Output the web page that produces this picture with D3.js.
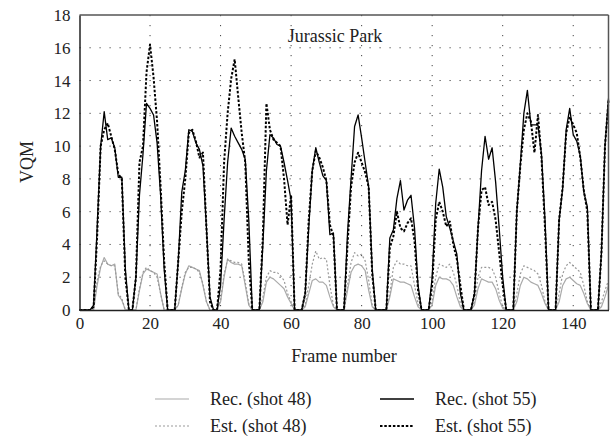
<!DOCTYPE html>
<html>
<head>
<meta charset="utf-8">
<script src="https://cdn.jsdelivr.net/npm/d3@7"></script>
<style>
  body { margin: 0; background: #fff; }
  text { font-family: 'Liberation Serif', 'DejaVu Serif', serif; fill: #222; }
</style>
</head>
<body>
<svg id="chart" width="614" height="446"></svg>
<script>
// frames 0..150
var rec48 = [0,0,0,0,0,
  1.5,2.6,3.2,2.8,2.7,2.8,0.9,0.6,0,0,0,
  0,1.2,2.2,2.5,2.4,2.3,2.2,1.0,0,0,0,0,
  0.3,1.3,2.2,2.7,2.6,2.5,2.4,1.5,0.5,0,0,0,
  0.5,2.0,3.1,2.9,2.8,2.8,2.7,1.5,0.3,0,0,0,
  0.5,1.7,2.0,1.9,1.7,1.5,1.3,0.8,0.4,0,0,0,
  0.2,1.0,1.8,1.9,1.7,1.7,1.5,0.8,0.2,0,0,0,
  1.2,2.3,2.7,2.8,2.7,2.4,1.2,0.2,0,0,0,0,
  0.8,1.9,1.8,1.7,1.7,1.6,1.5,0.8,0.2,0,0,0,
  0.3,1.5,2.0,1.9,1.9,1.8,1.5,0.8,0.2,0,0,0,
  0.3,1.3,1.9,1.8,1.7,1.7,1.3,0.6,0.1,0,0,0,
  0.5,1.5,2.0,1.9,1.7,1.6,1.5,1.0,0.4,0,0,0,
  0.5,1.5,1.9,2.0,1.8,1.6,1.5,1.0,0.4,0,0,0,
  0.2,0.8,1.5]
var est48 = [0,0,0,0,0,
  1.8,2.7,3.0,2.8,2.7,2.7,1.0,0.7,0,0,0,
  0,1.3,2.3,2.6,2.4,2.3,2.0,1.0,0,0,0,0,
  0.3,1.4,2.3,2.6,2.6,2.5,2.3,1.6,0.5,0,0,0,
  0.6,2.2,3.1,3.0,2.9,2.9,2.8,1.7,0.4,0,0,0,
  0.8,2.0,2.4,2.3,2.3,2.1,1.8,1.0,0.5,0,0,0,
  0.3,1.5,2.8,3.6,3.1,3.2,3.1,1.5,0.3,0,0,0,
  1.5,2.9,3.5,3.3,3.4,3.0,1.8,0.3,0,0,0,0,
  1.0,2.6,3.0,2.8,2.8,2.7,2.7,1.5,0.4,0,0,0,
  0.5,2.0,2.8,2.7,2.6,2.8,2.3,1.5,0.4,0,0,0,
  0.5,2.0,2.6,2.6,2.6,2.5,2.0,1.0,0.2,0,0,0,
  1.0,2.2,2.7,2.6,2.5,2.4,2.2,1.5,0.5,0,0,0,
  1.0,2.2,2.7,2.9,2.7,2.5,2.3,1.5,0.5,0,0,0,
  0.5,1.2,1.8]
var rec55 = [0,0,0,0,0.3,
  5.0,10.0,12.1,10.4,10.5,9.9,8.1,8.1,2.5,0,0,
  2.0,7.0,9.5,12.6,12.3,11.9,10.2,7.0,2.5,0,0,0,
  3.0,7.2,8.5,11.0,10.9,10.2,9.8,8.8,5.0,0.8,0,0,
  1.5,5.5,9.0,11.1,10.6,10.2,9.8,9.2,5.5,0,0,0,
  4.0,8.5,10.7,10.5,10.1,10.0,9.0,7.9,6.7,0,0,0,
  1.0,5.0,8.5,9.9,9.0,8.2,7.9,4.6,4.7,0,0,0,
  4.7,8.0,11.2,11.9,10.5,9.0,7.5,2.5,0,0,0,0,
  4.4,4.9,6.8,7.9,6.1,6.7,7.0,5.0,1.5,0,0,0,
  2.0,6.5,8.6,7.5,5.7,5.0,4.2,3.4,1.0,0,0,0,
  1.0,5.0,8.5,10.6,9.2,9.9,7.8,5.0,2.0,0,0,0,
  6.0,8.9,12.0,13.4,11.3,11.3,11.3,9.5,5.5,0,0,0,
  5.5,7.4,11.0,12.3,10.7,10.3,9.4,7.2,6.3,0,0,0,
  3.5,10.0,12.9]
var est55 = [0,0,0,0,0.2,
  4.5,10.0,11.0,11.4,10.6,9.8,8.3,8.0,2.0,0,0,
  2.0,9.0,10.0,14.5,16.2,14.2,11.5,7.5,3.0,0,0,0,
  3.0,6.0,8.0,10.8,11.0,10.3,9.3,9.6,5.0,0.5,0,0,
  2.5,9.0,12.0,14.1,15.3,13.0,10.8,9.0,3.0,0,0,0,
  4.5,12.6,11.0,10.4,10.2,10.0,8.0,5.2,7.0,0,0,0,
  1.0,5.5,8.5,9.7,9.3,8.7,7.9,5.2,4.5,0,0,0,
  4.0,7.5,9.0,9.6,9.0,8.4,7.5,2.2,0,0,0,0,
  3.8,4.5,6.0,5.0,4.8,5.3,5.6,4.2,1.2,0,0,0,
  1.5,5.5,6.6,6.0,5.1,5.4,4.0,3.1,1.5,0,0,0,
  1.0,5.0,7.3,7.5,6.4,6.6,5.5,3.5,1.5,0,0,0,
  6.0,8.8,11.0,12.0,11.5,9.6,11.9,9.3,5.0,0,0,0,
  5.5,7.5,10.8,11.8,11.3,10.8,9.3,7.3,6.0,0,0,0,
  3.5,10.0,12.8]

var xTicks = [0,20,40,60,80,100,120,140]
var yTicks = [0,2,4,6,8,10,12,14,16,18]

var seriesList = [
  {name:'Rec. (shot 48)', values:rec48, color:'#aaa', width:1.2, dash:null},
  {name:'Est. (shot 48)', values:est48, color:'#999', width:1.2, dash:'2,2'},
  {name:'Rec. (shot 55)', values:rec55, color:'#000', width:1.3, dash:null},
  {name:'Est. (shot 55)', values:est55, color:'#000', width:2, dash:'2.5,1.8'}
]

var svg = d3.select('#chart')
var pLeft = 79.5, pRight = 608.5, pTop = 15, pBottom = 310

var x = d3.scaleLinear().domain([0,150]).range([pLeft,pRight])
var y = d3.scaleLinear().domain([0,18]).range([pBottom,pTop])

// dotted grid
svg.append('g').selectAll('line')
  .data(yTicks.filter(function(d){return d > 0 && d < 18}))
  .enter().append('line')
  .attr('x1', pLeft).attr('x2', pRight)
  .attr('y1', function(d){return y(d)}).attr('y2', function(d){return y(d)})
  .attr('stroke','#444').attr('stroke-width',1).attr('stroke-dasharray','1.2,8.8')
svg.append('g').selectAll('line')
  .data(xTicks.filter(function(d){return d > 0}))
  .enter().append('line')
  .attr('y1', pTop).attr('y2', pBottom)
  .attr('x1', function(d){return x(d)}).attr('x2', function(d){return x(d)})
  .attr('stroke','#444').attr('stroke-width',1).attr('stroke-dasharray','1.2,8.8')

// series
var line = d3.line()
  .x(function(d,i){return x(i)})
  .y(function(d){return y(d)})

svg.append('g').selectAll('path')
  .data(seriesList)
  .enter().append('path')
  .attr('d', function(s){return line(s.values)})
  .attr('fill','none')
  .attr('stroke', function(s){return s.color})
  .attr('stroke-width', function(s){return s.width})
  .attr('stroke-dasharray', function(s){return s.dash})
  .attr('stroke-linejoin','round')

// frame
svg.append('line').attr('x1',pLeft).attr('x2',pRight).attr('y1',pTop).attr('y2',pTop)
  .attr('stroke','#555').attr('stroke-width',1.5)
svg.append('line').attr('x1',pRight).attr('x2',pRight).attr('y1',pTop).attr('y2',pBottom)
  .attr('stroke','#555').attr('stroke-width',1.5)

// axes
svg.append('g')
  .attr('transform','translate(0,' + pBottom + ')')
  .call(d3.axisBottom(x).tickValues(xTicks).tickSize(0).tickPadding(7))
svg.append('g')
  .attr('transform','translate(' + pLeft + ',0)')
  .call(d3.axisLeft(y).tickValues(yTicks).tickSize(0).tickPadding(9))
svg.selectAll('.domain').attr('stroke','#222').attr('stroke-width',1.5)
svg.selectAll('.tick text').style('font-family',"'Liberation Serif', serif").style('font-size','17px').attr('fill','#222')

svg.append('text').attr('x', 335).attr('y', 42).attr('text-anchor','middle')
  .style('font-size','18px').text('Jurassic Park')
svg.append('text').attr('x', 344).attr('y', 362).attr('text-anchor','middle')
  .style('font-size','18px').text('Frame number')
svg.append('text').attr('transform','translate(33,162) rotate(-90)').attr('text-anchor','middle')
  .style('font-size','18px').text('VQM')

// legend
var legendPos = [[155,399],[155,426],[380,399],[380,426]]
var legend = svg.append('g').selectAll('g')
  .data(seriesList)
  .enter().append('g')
  .attr('transform', function(d,i){return 'translate(' + legendPos[i][0] + ',' + legendPos[i][1] + ')'})
legend.append('line')
  .attr('x1',0).attr('x2',34).attr('y1',0).attr('y2',0)
  .attr('stroke', function(s){return s.color})
  .attr('stroke-width', function(s){return s.width})
  .attr('stroke-dasharray', function(s){return s.dash})
legend.append('text')
  .attr('x',55).attr('y',6)
  .style('font-size','18px')
  .text(function(s){return s.name})
</script>
</body>
</html>
